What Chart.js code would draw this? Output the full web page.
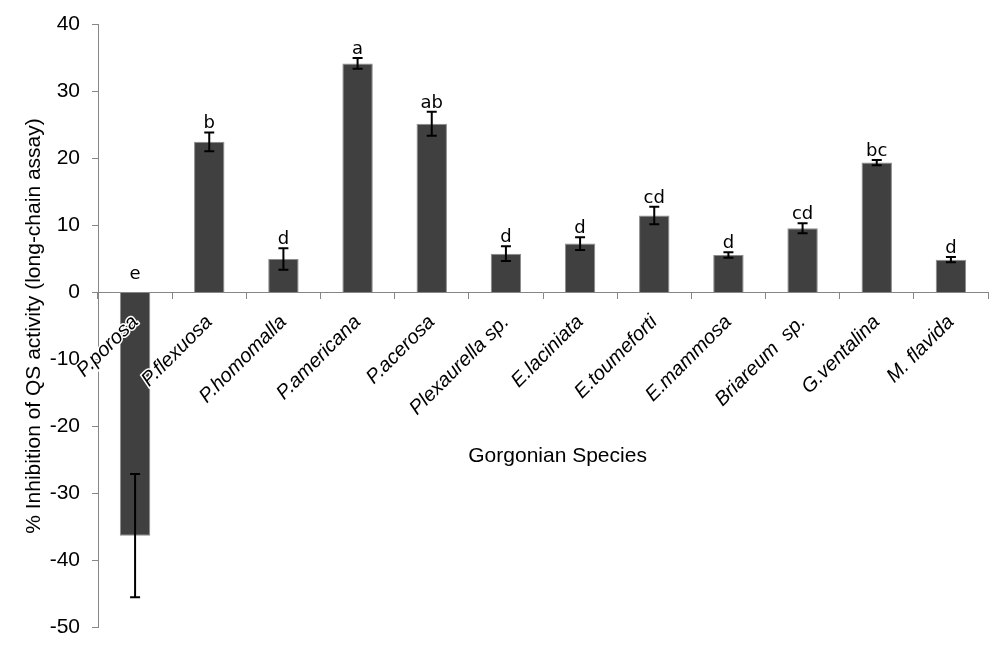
<!DOCTYPE html>
<html><head><meta charset="utf-8">
<script src="https://cdn.jsdelivr.net/npm/chart.js@4/dist/chart.umd.min.js"></script>
<style>html,body{margin:0;padding:0;background:#fff}#wrap{width:1000px;height:652px;position:relative}</style>
</head><body><div id="wrap"><canvas id="c"></canvas></div>
<script>
const species = ['P.porosa','P.flexuosa','P.homomalla','P.americana','P.acerosa','Plexaurella sp.','E.laciniata','E.toumeforti','E.mammosa','Briareum  sp.','G.ventalina','M. flavida'];
const values = [-36.3, 22.5, 5.0, 34.2, 25.2, 5.8, 7.3, 11.5, 5.6, 9.6, 19.4, 4.9];
const errors = [9.2, 1.4, 1.6, 0.8, 1.8, 1.1, 0.95, 1.3, 0.4, 0.75, 0.4, 0.4];
const letters = ['e','b','d','a','ab','d','d','cd','d','cd','bc','d'];
const yMin = -50, yMax = 40, yStep = 10;

const errorBarPlugin = {
  id: 'errorBars',
  afterDatasetsDraw(chart) {
    const meta = chart.getDatasetMeta(0);
    const y = chart.scales.y;
    const ctx = chart.ctx;
    ctx.save();
    ctx.strokeStyle = '#000'; ctx.lineWidth = 2;
    meta.data.forEach((bar, i) => {
      const x = bar.x;
      const top = y.getPixelForValue(values[i] + errors[i]);
      const bot = y.getPixelForValue(values[i] - errors[i]);
      ctx.beginPath();
      ctx.moveTo(x, top); ctx.lineTo(x, bot);
      ctx.moveTo(x - 5, top); ctx.lineTo(x + 5, top);
      ctx.moveTo(x - 5, bot); ctx.lineTo(x + 5, bot);
      ctx.stroke();
    });
    ctx.fillStyle = '#000';
    ctx.font = '18px "DejaVu Sans"';
    ctx.textAlign = 'center';
    ctx.textBaseline = 'alphabetic';
    meta.data.forEach((bar, i) => {
      const hi = values[i] + errors[i];
      const base = hi > 0 ? y.getPixelForValue(hi) - 4 : y.getPixelForValue(0) - 14;
      ctx.fillText(letters[i], bar.x, base);
    });
    ctx.restore();
  }
};

new Chart(document.getElementById('c'), {
  type: 'bar',
  data: {
    labels: species,
    datasets: [{
      data: values,
      backgroundColor: '#404040',
      borderColor: '#8c8c8c',
      borderWidth: 1,
      barPercentage: 0.41,
      categoryPercentage: 1
    }]
  },
  options: {
    responsive: true,
    maintainAspectRatio: false,
    animation: false,
    layout: { padding: { left: 0, top: 24, right: 12, bottom: 23 } },
    plugins: { legend: { display: false }, tooltip: { enabled: false } },
    scales: {
      x: {
        position: { y: 0 },
        grid: { offset: true, drawOnChartArea: false, drawTicks: true, tickLength: 6, color: '#868686', z: 1 },
        border: { color: '#868686', width: 1, z: 1 },
        ticks: {
          z: 2,
          autoSkip: false, minRotation: 45, maxRotation: 45, padding: 12,
          color: '#000',
          textStrokeColor: '#fff', textStrokeWidth: 3,
          font: { family: '"Liberation Sans", Arial, sans-serif', size: 20, style: 'italic' }
        },
        title: {
          display: true, text: '     Gorgonian Species', color: '#000',
          font: { family: '"Liberation Sans", Arial, sans-serif', size: 21 },
          padding: { top: 11, bottom: 0 }
        }
      },
      y: {
        min: yMin, max: yMax,
        afterFit(scale) { scale.width = 98; },
        grid: { drawOnChartArea: false, drawTicks: true, tickLength: 6, color: '#868686' },
        border: { color: '#868686', width: 1 },
        ticks: {
          stepSize: yStep, padding: 12, color: '#000',
          font: { family: '"Liberation Sans", Arial, sans-serif', size: 21 }
        },
        title: {
          display: true, text: '% Inhibition of QS activity (long-chain assay)', color: '#000',
          font: { family: '"Liberation Sans", Arial, sans-serif', size: 21 },
          padding: { top: 22, bottom: 0 }
        }
      }
    }
  },
  plugins: [errorBarPlugin]
});
</script>
</body></html>
